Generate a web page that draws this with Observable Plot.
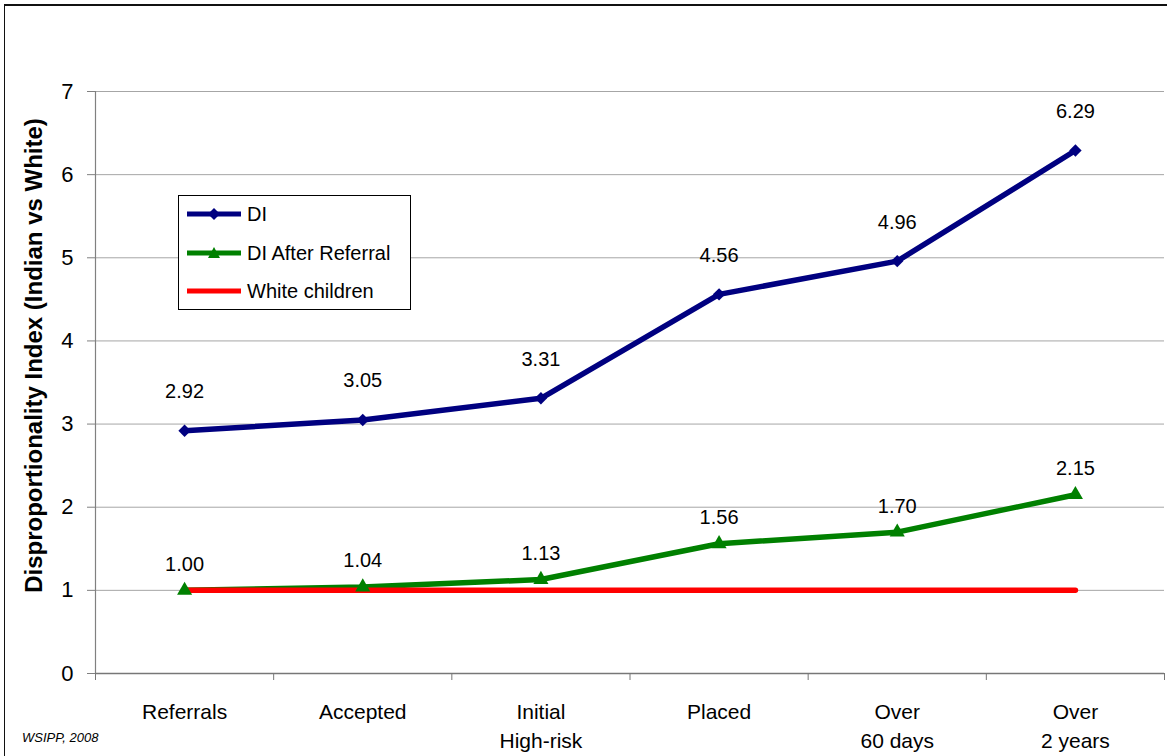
<!DOCTYPE html>
<html>
<head>
<meta charset="utf-8">
<script src="https://cdn.jsdelivr.net/npm/d3@7"></script>
<script src="https://cdn.jsdelivr.net/npm/@observablehq/plot@0.6"></script>
<style>
  html, body { margin: 0; padding: 0; background: #fff; }
  #wrap { position: relative; width: 1167px; height: 756px; overflow: hidden; font-family: "Liberation Sans", Arial, sans-serif; }
  #border { position: absolute; left: 4px; top: 4px; width: 1200px; height: 800px; border-top: 2px solid #111; border-left: 1.5px solid #111; pointer-events: none; }
  #legend { position: absolute; left: 178px; top: 195px; width: 231px; height: 113px; border: 1px solid #000; background: #fff; }
  .row { position: absolute; left: 8px; height: 20px; display: flex; align-items: center; font-size: 20px; color: #000; white-space: nowrap; }
  .row svg { margin-right: 6px; }
  #source { position: absolute; left: 22px; top: 731px; font-size: 13px; font-style: italic; line-height: 1; color: #000; }
</style>
</head>
<body>
<div id="wrap">
  <div id="chart"></div>
  <div id="legend"></div>
  <div id="source">WSIPP, 2008</div>
  <div id="border"></div>
</div>
<script>
// Stages of child welfare involvement
const categories = ["Referrals", "Accepted", "Initial\nHigh-risk", "Placed", "Over\n60 days", "Over\n2 years"];

// Disproportionality index, Indian vs White children
const diValues = [2.92, 3.05, 3.31, 4.56, 4.96, 6.29];
const diAfterReferral = [1.00, 1.04, 1.13, 1.56, 1.70, 2.15];
const whiteChildren = [1, 1, 1, 1, 1, 1];

const yTicks = [0, 1, 2, 3, 4, 5, 6, 7];

const seriesNames = ["DI", "DI After Referral", "White children"];
const seriesColors = ["#000080", "#008000", "#ff0000"];

const idx = (d, i) => i;
const boundaries = d3.range(categories.length + 1).map((i) => i - 0.5);

const chart = Plot.plot({
  width: 1167,
  height: 756,
  marginLeft: 95,
  marginRight: 3,
  marginTop: 91,
  marginBottom: 83,
  style: { fontFamily: '"Liberation Sans", Arial, sans-serif', background: "transparent", color: "#000" },
  x: { type: "linear", domain: [-0.5, categories.length - 0.5] },
  y: { domain: [0, 7] },
  marks: [
    // horizontal gridlines
    Plot.ruleY(yTicks.filter((t) => t > 0), { stroke: "#a6a6a6", strokeWidth: 1 }),
    // axis lines
    Plot.ruleX([-0.5], { stroke: "#808080", strokeWidth: 1.2 }),
    Plot.ruleY([0], { stroke: "#777", strokeWidth: 1.3 }),
    Plot.axisY({ ticks: yTicks, tickSize: 8, tickPadding: 14, fontSize: 22, stroke: "#808080", fill: "#000", label: null, tickFormat: (d) => String(d) }),
    Plot.axisX({ ticks: boundaries, tickSize: 7, tickFormat: () => "", stroke: "#777", label: null }),
    // category labels
    Plot.text(categories, { x: idx, text: (d) => d, frameAnchor: "bottom", lineAnchor: "top", dy: 25, lineHeight: 1.38, fontSize: 21, fill: "#000" }),
    // y axis title
    Plot.text(["Disproportionality Index (Indian vs White)"], { text: (d) => d, frameAnchor: "left", textAnchor: "middle", rotate: -90, dx: -61.5, dy: -27, fontSize: 24, fontWeight: "bold", fill: "#000" }),
    // series lines
    Plot.line(diValues, { x: idx, y: (d) => d, stroke: seriesColors[0], strokeWidth: 5.5 }),
    Plot.line(diAfterReferral, { x: idx, y: (d) => d, stroke: seriesColors[1], strokeWidth: 5.5 }),
    Plot.line(whiteChildren, { x: idx, y: (d) => d, stroke: seriesColors[2], strokeWidth: 5.5 }),
    // markers
    Plot.dot(diValues, { x: idx, y: (d) => d, symbol: "diamond2", r: 5.6, fill: seriesColors[0], stroke: "none" }),
    Plot.dot(diAfterReferral, { x: idx, y: (d) => d, symbol: "triangle", r: 5.6, fill: seriesColors[1], stroke: "none" }),
    // value labels
    Plot.text(diValues, { x: idx, y: (d) => d, text: (d) => d.toFixed(2), dy: -39, fontSize: 20, fill: "#000" }),
    Plot.text(diAfterReferral, { x: idx, y: (d) => d, text: (d) => d.toFixed(2), dy: -26, fontSize: 20, fill: "#000" })
  ]
});
document.getElementById("chart").append(chart);

// Legend
const legend = document.getElementById("legend");
const rowTops = [8, 47, 85];
const markerShapes = [
  '<path d="M27,1 L33,7 L27,13 L21,7 Z"/>',
  '<path d="M27,1 L33,12 L21,12 Z"/>',
  ''
];
seriesNames.forEach((name, i) => {
  const row = document.createElement("div");
  row.className = "row";
  row.style.top = rowTops[i] + "px";
  row.innerHTML =
    `<svg width="54" height="14" viewBox="0 0 54 14"><line x1="0" x2="54" y1="7" y2="7" stroke="${seriesColors[i]}" stroke-width="5"/>` +
    `<g fill="${seriesColors[i]}">${markerShapes[i]}</g></svg><span>${name}</span>`;
  legend.append(row);
});
</script>
</body>
</html>
